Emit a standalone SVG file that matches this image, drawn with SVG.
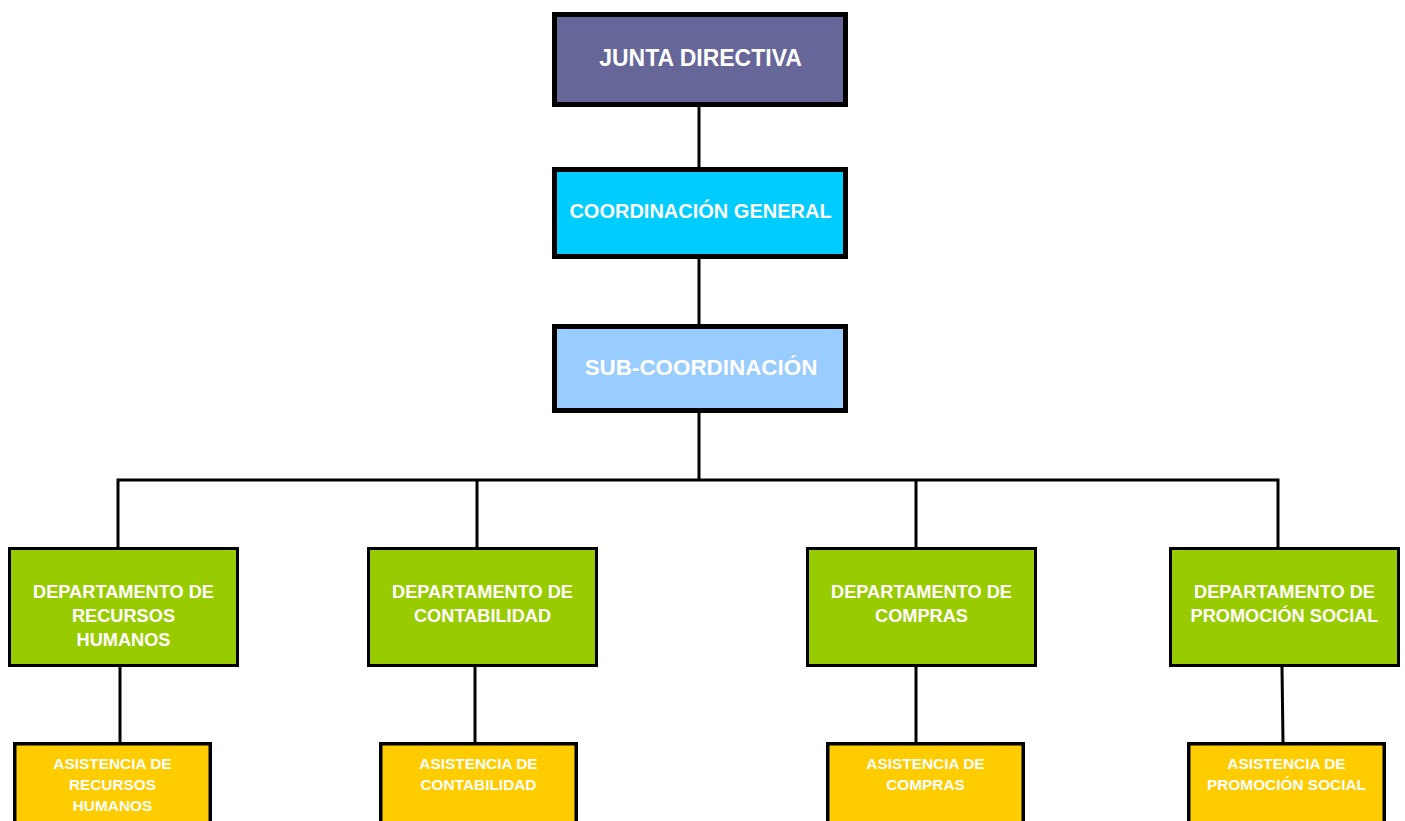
<svg xmlns="http://www.w3.org/2000/svg" width="1405" height="821" viewBox="0 0 1405 821">
<style>
text{font-family:"Liberation Sans",Arial,sans-serif;font-weight:bold;fill:#fff;text-anchor:middle}
.top{stroke:#000;stroke-width:5}
.dept{fill:#99cc00;stroke:#000;stroke-width:3}
.asst{fill:#ffcc00;stroke:#000;stroke-width:3.5}
.t0{font-size:23px}.t1{font-size:22.4px}.t2{font-size:20px}.t3{font-size:18.2px}.t4{font-size:15.4px}
.conn line,.conn polyline{stroke:#000;stroke-width:3;fill:none}
</style>
<rect width="1405" height="821" fill="#fff"/>
<g class="conn" id="connectors">
<line x1="699" y1="107" x2="699" y2="167"/>
<line x1="699" y1="259" x2="699" y2="324"/>
<line x1="699" y1="413" x2="699" y2="480"/>
<polyline points="118,547 118,480 1278,480 1278,547"/>
<line x1="477" y1="480" x2="477" y2="547"/>
<line x1="916" y1="480" x2="916" y2="547"/>
<line x1="120" y1="667" x2="120" y2="742"/>
<line x1="475" y1="667" x2="475" y2="742"/>
<line x1="916" y1="667" x2="916" y2="742"/>
<line x1="1282" y1="667" x2="1283" y2="742"/>
</g>
<g id="junta"><rect class="top" x="554.5" y="14.5" width="291" height="90" fill="#666699"/><text class="t0" x="700.5" y="66">JUNTA DIRECTIVA</text></g>
<g id="coord"><rect class="top" x="554.5" y="169.5" width="291" height="87" fill="#00ccff"/><text class="t2" x="700.5" y="218">COORDINACIÓN GENERAL</text></g>
<g id="sub"><rect class="top" x="554.5" y="326.5" width="291" height="84" fill="#99ccff"/><text class="t1" x="701" y="375">SUB-COORDINACIÓN</text></g>
<g id="dept-rh"><rect class="dept" x="9.5" y="548.5" width="228" height="117"/><text class="t3" x="123.5" y="598">DEPARTAMENTO DE</text><text class="t3" x="123.5" y="622">RECURSOS</text><text class="t3" x="123.5" y="646">HUMANOS</text></g>
<g id="dept-cont"><rect class="dept" x="368.5" y="548.5" width="228" height="117"/><text class="t3" x="482.5" y="598">DEPARTAMENTO DE</text><text class="t3" x="482.5" y="622">CONTABILIDAD</text></g>
<g id="dept-comp"><rect class="dept" x="807.5" y="548.5" width="228" height="117"/><text class="t3" x="921.5" y="598">DEPARTAMENTO DE</text><text class="t3" x="921.5" y="622">COMPRAS</text></g>
<g id="dept-prom"><rect class="dept" x="1170.5" y="548.5" width="228" height="117"/><text class="t3" x="1284.5" y="598">DEPARTAMENTO DE</text><text class="t3" x="1284.5" y="622">PROMOCIÓN SOCIAL</text></g>
<g id="asst-rh"><rect class="asst" x="14.75" y="743.75" width="195.5" height="90"/><text class="t4" x="112.5" y="768.5">ASISTENCIA DE</text><text class="t4" x="112.5" y="789.5">RECURSOS</text><text class="t4" x="112.5" y="811">HUMANOS</text></g>
<g id="asst-cont"><rect class="asst" x="380.75" y="743.75" width="195.5" height="90"/><text class="t4" x="478.5" y="768.5">ASISTENCIA DE</text><text class="t4" x="478.5" y="789.5">CONTABILIDAD</text></g>
<g id="asst-comp"><rect class="asst" x="827.75" y="743.75" width="195.5" height="90"/><text class="t4" x="925.5" y="768.5">ASISTENCIA DE</text><text class="t4" x="925.5" y="789.5">COMPRAS</text></g>
<g id="asst-prom"><rect class="asst" x="1188.75" y="743.75" width="195.5" height="90"/><text class="t4" x="1286.5" y="768.5">ASISTENCIA DE</text><text class="t4" x="1286.5" y="789.5">PROMOCIÓN SOCIAL</text></g>
</svg>
